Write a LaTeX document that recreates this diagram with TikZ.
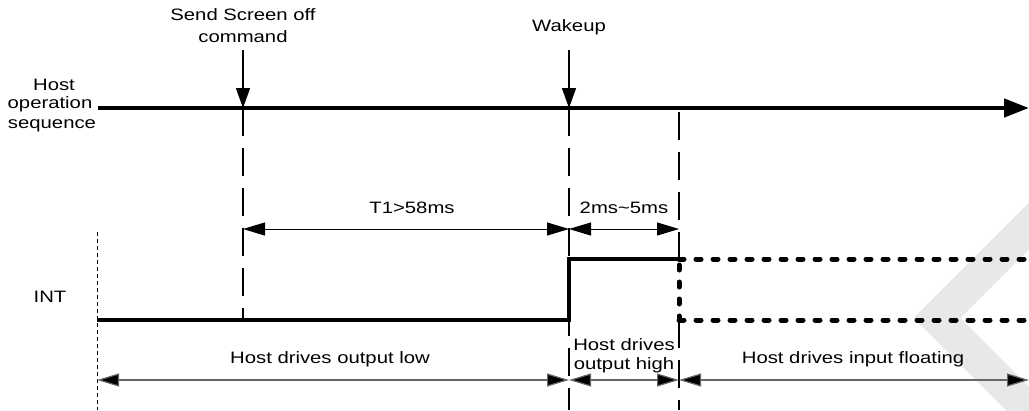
\documentclass[tikz,border=0pt]{standalone}
\usepackage{fontspec}
\setmainfont{Liberation Sans}[FakeStretch=1.23]
\usetikzlibrary{arrows.meta}
\begin{document}
\begin{tikzpicture}[x=1pt,y=-1pt,
  lbl/.style={inner sep=0pt,anchor=base,font=\fontsize{16.5}{20}\selectfont},
  thickline/.style={line width=4.5pt},
  mainarrow/.style={line width=4.5pt,-{Triangle[length=25pt,width=18pt]}},
  evtarrow/.style={line width=1.6pt,-{Triangle[length=20pt,width=14pt]}},
  longdash/.style={line width=1.5pt,dash pattern=on 28pt off 12pt},
  thindash/.style={line width=0.8pt,dash pattern=on 4pt off 3pt},
  dotline/.style={line width=5pt,line cap=round,dash pattern=on 5pt off 12pt},
  measure/.style={line width=1pt,{Triangle[length=22pt,width=13pt]}-{Triangle[length=22pt,width=13pt]}},
  spanarrow/.style={line width=1.2pt,draw=black!60,{Triangle[length=22pt,width=13pt,fill=black]}-{Triangle[length=22pt,width=13pt,fill=black]}}
]
\useasboundingbox (0,0) rectangle (1029,410);
% watermark
\begin{scope}
\clip (0,0) rectangle (1029,410);
\draw[line width=33pt,black!9] (1140,115) -- (937,318) -- (1060,441);
\end{scope}

% coordinates
\coordinate (hs) at (98,108);
\coordinate (he) at (1029,108);
\coordinate (sa) at (243,50);
\coordinate (sb) at (243,108);
\coordinate (sc) at (243,320);
\coordinate (wa) at (569,50);
\coordinate (wb) at (569,108);
\coordinate (wc) at (569,410);
\coordinate (ta) at (679,112);
\coordinate (tc) at (679,410);
\coordinate (la) at (97,232);
\coordinate (lb) at (97,410);
\coordinate (m1) at (243,229);
\coordinate (m2) at (569,229);
\coordinate (m3) at (679,229);
\coordinate (b0) at (97,380);
\coordinate (b1) at (569,380);
\coordinate (b2) at (679,380);
\coordinate (b3) at (1029,380);
\coordinate (i0) at (97,320);
\coordinate (i1) at (569,320);
\coordinate (i2) at (569,259);
\coordinate (i3) at (679,259);
\coordinate (i4) at (1029,259);
\coordinate (i5) at (679,320);
\coordinate (i6) at (1029,320);

% labels
\node[lbl] (send1) at (243,20) {Send Screen off};
\node[lbl] (send2) at (243,42) {command};
\node[lbl] (wake) at (569,31) {Wakeup};
\node[lbl] (hos1) at (54,90) {Host};
\node[lbl] (hos2) at (50,108) {operation};
\node[lbl] (hos3) at (52,128) {sequence};
\node[lbl] (int) at (50,302) {INT};
\node[lbl] (t1) at (412,213) {T1>58ms};
\node[lbl] (t2) at (624,213) {2ms\textasciitilde 5ms};
\node[lbl] (low) at (330,363) {Host drives output low};
\node[lbl] (hi1) at (624,350) {Host drives};
\node[lbl] (hi2) at (624,369) {output high};
\node[lbl] (flt) at (853,363) {Host drives input floating};

% vertical guides
\draw[longdash] (sb) -- (sc);
\draw[longdash] (wb) -- (wc);
\draw[longdash] (ta) -- (i3);
\draw[longdash] (i5) -- (tc);
\draw[thindash] (la) -- (lb);

% host sequence
\draw[mainarrow] (hs) -- (he);
\draw[evtarrow] (sa) -- (sb);
\draw[evtarrow] (wa) -- (wb);

% measurements
\draw[measure] (m1) -- (m2);
\draw[measure] (m2) -- (m3);
\draw[spanarrow] (b0) -- (b1);
\draw[spanarrow] (b1) -- (b2);
\draw[spanarrow] (b2) -- (b3);

% INT signal
\draw[thickline] (i0) -- (i1) -- (i2) -- (i3);
\draw[dotline] (i3) -- (i4);
\draw[dotline,dash phase=-6pt] (i3) -- (i5);
\draw[dotline] (i5) -- (i6);
\end{tikzpicture}
\end{document}
